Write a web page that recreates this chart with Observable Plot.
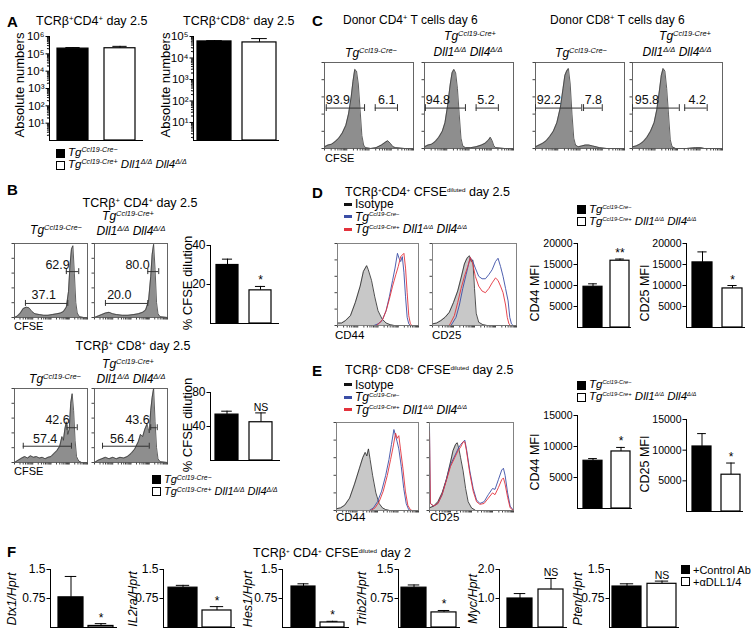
<!DOCTYPE html>
<html><head><meta charset="utf-8">
<script src="https://cdn.jsdelivr.net/npm/d3@7"></script>
<script src="https://cdn.jsdelivr.net/npm/@observablehq/plot@0.6"></script>
<style>
body{margin:0;background:#fff;}
#fig{position:relative;width:756px;height:637px;overflow:hidden;font-family:"Liberation Sans",Arial,Helvetica,sans-serif;color:#000;background:#fff;}
.t{position:absolute;white-space:nowrap;line-height:1;}
.t sup{font-size:0.62em;vertical-align:0;position:relative;top:-0.5em;}
.t.small sup{font-size:0.5em;top:-0.7em;}
.sq{position:absolute;width:9px;height:9px;box-sizing:border-box;border:1px solid #000;}
.ln{position:absolute;width:8px;height:3px;}
</style></head><body><div id="fig"></div><script>
// ---------------- DATA ----------------
const genotypes = ["Tg<sup>Ccl19-Cre−</sup>", "Tg<sup>Ccl19-Cre+</sup> Dll1<sup>Δ/Δ</sup> Dll4<sup>Δ/Δ</sup>"];
const treatments = ["+Control Ab", "+αDLL1/4"];
const groupKeys = ["g0", "g1"];

// A: absolute numbers (log)
const absCD4 = [2.0e5, 2.1e5], absCD4Err = [2.3e5, 2.7e5];
const absCD8 = [5.9e4, 5.3e4], absCD8Err = [6.4e4, 8.0e4];
const absTicksCD4 = [1e1, 1e2, 1e3, 1e4, 1e5, 1e6];
const absTicksCD8 = [1e1, 1e2, 1e3, 1e4, 1e5];

// B: % CFSE dilution
const cfseCD4 = [30, 17], cfseCD4Err = [33, 19], cfseCD4Sig = ["", "*"];
const cfseCD8 = [54, 45], cfseCD8Err = [58, 56], cfseCD8Sig = ["", "NS"];
const cfseCD4Ticks = [20, 40], cfseCD8Ticks = [40, 80];

// D / E: MFI
const dCD44 = [9700, 15900], dCD44Err = [10400, 16300], dCD44Sig = ["", "**"];
const dCD25 = [15500, 9300], dCD25Err = [18000, 10000], dCD25Sig = ["", "*"];
const eCD44 = [7700, 9200], eCD44Err = [8050, 9850], eCD44Sig = ["", "*"];
const eCD25 = [10600, 6000], eCD25Err = [12700, 7900], eCD25Sig = ["", "*"];
const mfiTicksD = [5000, 10000, 15000, 20000], mfiTicksE = [5000, 10000, 15000];

// F: qPCR
const genes = ["Dtx1", "IL2ra", "Hes1", "Trib2", "Myc", "Pten"];
const fControl = [0.78, 1.03, 1.06, 1.03, 1.0, 1.06];
const fControlErr = [1.32, 1.09, 1.13, 1.10, 1.17, 1.13];
const fDLL = [0.04, 0.44, 0.13, 0.39, 1.31, 1.13];
const fDLLErr = [0.10, 0.54, 0.16, 0.44, 1.69, 1.20];
const fSig = ["*", "*", "*", "*", "NS", "NS"];
const fTicks15 = [0.75, 1.5], fTicks20 = [1.0, 2.0];

// Histograms [CFSE/marker channel (0-100), % of max]
const bCD4ctrl = [[0,0],[4,2],[8,6],[12,12],[16,14],[20,13],[24,8],[28,5],[34,4],[40,3],[46,3],[52,4],[58,5],[63,6],[67,8],[71,14],[74,35],[76,70],[78,92],[80,97],[82,60],[84,20],[86,6],[89,1],[95,0],[100,0]];
const bCD4ko = [[0,0],[5,2],[10,4],[15,6],[20,7],[25,5],[30,4],[38,3],[46,3],[54,4],[60,5],[66,7],[70,10],[74,22],[77,55],[79,85],[81,99],[83,65],[85,20],[87,5],[90,1],[100,0]];
const bCD8ctrl = [[0,0],[5,3],[10,6],[14,8],[18,6],[22,9],[26,7],[30,8],[34,6],[38,7],[42,5],[46,7],[50,8],[54,12],[58,16],[62,22],[65,35],[67,30],[69,45],[71,55],[73,38],[75,45],[77,80],[79,93],[81,70],[83,30],[85,8],[88,2],[92,0],[100,0]];
const bCD8ko = [[0,0],[5,3],[10,5],[15,7],[20,5],[25,7],[30,5],[35,7],[40,6],[45,8],[50,12],[55,18],[60,28],[63,38],[66,35],[69,45],[72,52],[75,40],[77,70],[79,88],[81,100],[83,55],[85,20],[87,5],[90,1],[100,0]];
const cCD4ctrl = [[0,2],[4,4],[8,5],[12,8],[16,12],[20,18],[24,27],[27,40],[30,60],[32,78],[34,92],[36,90],[38,75],[40,45],[42,15],[44,4],[46,1],[52,0],[58,1],[64,4],[68,7],[71,9],[74,6],[77,2],[80,1],[90,0],[100,0]];
const cCD4ko = [[0,2],[4,4],[8,5],[12,8],[16,13],[20,20],[23,30],[26,50],[29,75],[31,88],[33,92],[35,88],[37,70],[39,40],[41,12],[43,3],[46,1],[52,1],[58,2],[64,4],[68,6],[72,10],[74,13],[76,9],[78,3],[80,1],[90,0],[100,0]];
const cCD8ctrl = [[0,2],[4,4],[8,6],[12,9],[16,14],[20,20],[24,30],[28,48],[31,70],[33,85],[35,90],[37,93],[39,75],[41,40],[43,12],[45,4],[48,2],[52,3],[56,4],[60,4],[64,3],[68,2],[72,1],[80,0],[100,0]];
const cCD8ko = [[0,2],[4,3],[8,5],[12,8],[16,13],[20,20],[24,30],[27,45],[30,68],[32,85],[34,93],[36,90],[38,70],[40,40],[42,10],[44,2],[48,0],[60,0],[70,1],[76,1],[80,0],[100,0]];
const dCD44iso = [[0,3],[5,3],[10,6],[16,12],[22,28],[28,48],[32,66],[36,73],[38,68],[42,55],[46,35],[50,18],[55,8],[60,3],[65,1],[70,0],[100,0]];
const dCD44ctrl = [[45,0],[50,2],[55,6],[60,18],[64,35],[68,55],[71,70],[74,88],[76,82],[78,78],[80,84],[82,65],[84,35],[86,10],[88,2],[90,0]];
const dCD44ko = [[48,0],[52,3],[56,8],[60,18],[64,32],[68,48],[72,62],[75,72],[78,84],[80,86],[82,88],[84,70],[86,40],[88,12],[90,2],[92,0]];
const dCD25iso = [[0,2],[5,3],[10,6],[15,10],[20,16],[25,28],[30,42],[34,58],[38,75],[41,82],[44,85],[46,78],[48,80],[50,45],[52,15],[55,4],[60,1],[65,0],[100,0]];
const dCD25ctrl = [[22,0],[28,10],[32,25],[36,45],[40,62],[43,75],[45,83],[48,78],[51,70],[55,60],[59,57],[63,57],[67,62],[71,68],[75,78],[78,82],[81,72],[84,60],[87,45],[90,30],[92,10],[94,2],[96,0]];
const dCD25ko = [[20,0],[26,12],[30,28],[34,45],[38,60],[42,72],[45,83],[48,75],[51,60],[55,48],[59,42],[63,40],[67,45],[71,52],[75,58],[78,55],[81,48],[84,40],[87,25],[89,10],[91,2],[93,0]];
const eCD44iso = [[0,2],[5,3],[10,6],[16,14],[22,30],[28,48],[32,60],[35,66],[37,62],[39,70],[41,58],[44,40],[48,20],[52,8],[56,3],[60,1],[65,0],[100,0]];
const eCD44ctrl = [[40,0],[45,3],[50,10],[55,22],[60,40],[64,58],[67,75],[70,92],[72,85],[74,78],[76,70],[79,50],[82,25],[85,8],[88,1],[90,0]];
const eCD44ko = [[42,0],[47,3],[52,10],[57,22],[62,40],[66,58],[69,72],[72,88],[74,82],[76,85],[78,70],[81,48],[84,22],[87,6],[90,1],[92,0]];
const eCD25iso = [[0,3],[5,5],[10,10],[15,20],[20,35],[25,55],[28,68],[31,75],[33,77],[35,70],[37,60],[40,45],[43,25],[46,10],[50,3],[55,0],[100,0]];
const eCD25ctrl = [[0,95],[1,8],[5,5],[10,8],[15,18],[20,35],[25,52],[30,62],[34,70],[37,75],[40,78],[42,80],[44,70],[48,45],[52,25],[56,12],[60,8],[65,10],[70,18],[75,25],[78,24],[82,35],[86,46],[88,48],[90,40],[93,20],[96,5],[100,0]];
const eCD25ko = [[0,90],[1,8],[5,5],[10,8],[15,18],[20,34],[25,50],[30,60],[34,68],[37,72],[40,78],[42,78],[44,68],[48,42],[52,22],[56,10],[60,7],[65,8],[70,14],[75,20],[78,18],[82,26],[86,35],[88,37],[90,30],[93,15],[96,3],[100,0]];

// gate labels
const gatesBCD4ctrl = [{label:"62.9",tx:59,ty:71,x1:71,x2:88,gy:62},{label:"37.1",tx:40,ty:31,x1:15,x2:73,gy:19}];
const gatesBCD4ko = [{label:"80.0",tx:59,ty:71,x1:73,x2:88,gy:62},{label:"20.0",tx:34,ty:31,x1:15,x2:73,gy:19}];
const gatesBCD8ctrl = [{label:"42.6",tx:59,ty:58,x1:72,x2:86,gy:47},{label:"57.4",tx:42,ty:32,x1:12,x2:78,gy:22}];
const gatesBCD8ko = [{label:"43.6",tx:59,ty:58,x1:77,x2:86,gy:47},{label:"56.4",tx:38,ty:32,x1:11,x2:75,gy:22}];
const gatesC1 = [{label:"93.9",tx:15,ty:56,x1:2,x2:45,gy:47},{label:"6.1",tx:70,ty:56,x1:57,x2:82,gy:47}];
const gatesC2 = [{label:"94.8",tx:15,ty:56,x1:1,x2:46,gy:47},{label:"5.2",tx:69,ty:56,x1:58,x2:83,gy:47}];
const gatesC3 = [{label:"92.2",tx:15,ty:56,x1:0,x2:52,gy:47},{label:"7.8",tx:65,ty:56,x1:54,x2:75,gy:47}];
const gatesC4 = [{label:"95.8",tx:16,ty:56,x1:0,x2:52,gy:47},{label:"4.2",tx:72,ty:56,x1:58,x2:83,gy:47}];

// ---------------- HELPERS ----------------
const FONT = "'Liberation Sans', Arial, Helvetica, sans-serif";
const fig = document.getElementById("fig");
function T(html, x, y, o = {}) {
  const d = document.createElement("div");
  d.className = "t" + (o.small ? " small" : "");
  d.innerHTML = html;
  d.style.left = x + "px"; d.style.top = y + "px";
  d.style.fontSize = (o.size || 12) + "px";
  if (o.italic) d.style.fontStyle = "italic";
  if (o.bold) d.style.fontWeight = "bold";
  const ax = o.anchor === "middle" ? "-50%" : o.anchor === "end" ? "-100%" : "0";
  d.style.transform = `translate(${ax},-50%)` + (o.rotate ? " rotate(-90deg)" : "");
  fig.appendChild(d);
}
function SQ(x, y, black) {
  const d = document.createElement("div"); d.className = "sq";
  d.style.left = x + "px"; d.style.top = y + "px"; d.style.background = black ? "#000" : "#fff";
  fig.appendChild(d);
}
function LN(x, y, color) {
  const d = document.createElement("div"); d.className = "ln";
  d.style.left = x + "px"; d.style.top = (y - 1.5) + "px"; d.style.background = color;
  fig.appendChild(d);
}
function place(svg, left, top) {
  svg.style.position = "absolute"; svg.style.left = left + "px"; svg.style.top = top + "px";
  svg.style.maxWidth = "none"; svg.style.overflow = "visible";
  fig.appendChild(svg);
}
const supDigits = "⁰¹²³⁴⁵⁶⁷⁸⁹";
const pow10 = d => "10" + String(Math.round(Math.log10(d))).split("").map(c => supDigits[+c]).join("");

function barChart(L, vals, errs, sigs, fmt) {
  const ml = 46, mr = 2, mt = 16, mb = 2;
  const h = L.yBottom - L.yTop;
  const W = (L.barL - L.axis) + 2 * L.bw + L.gap + L.outerR;
  const rows = vals.map((v, i) => ({g: groupKeys[i], v, e: errs[i], s: sigs ? sigs[i] : "", c: i ? "#fff" : "#000"}));
  const base = L.domain[0];
  const x0 = ml + (L.barL - L.axis);
  const marks = [
    Plot.ruleY([base], {stroke: "#000", strokeWidth: 1.2}),
    Plot.ruleX(rows, {x: "g", y1: "v", y2: "e", stroke: "#000", strokeWidth: 1}),
    Plot.tickY(rows, {x: "g", y: "e", stroke: "#000", strokeWidth: 1, insetLeft: L.bw * 0.27, insetRight: L.bw * 0.27}),
    Plot.barY(rows, {x: "g", y1: base, y2: "v", fill: "c", stroke: "#000", strokeWidth: 1.2}),
    Plot.text(rows.filter(d => d.s), {x: "g", y: "e", text: "s", lineAnchor: "bottom", fontSize: L.sigSize || 12, dy: -2})
  ];
  if (L.log) {
    const minors = [];
    for (let e = 0; e < 6; e++) for (let k = 2; k <= 9; k++) { const m = k * Math.pow(10, e); if (m > L.domain[0] && m < L.domain[1]) minors.push(m); }
    marks.push(Plot.vector(minors, {y: d => d, frameAnchor: "left", rotate: -90, length: 2, anchor: "start", stroke: "#000", strokeWidth: 0.8}));
  }
  const svg = Plot.plot({
    width: ml + W + mr, height: mt + h + mb,
    marginLeft: ml, marginRight: mr, marginTop: mt, marginBottom: mb,
    style: {fontSize: (L.tickSize || 12) + "px", fontFamily: FONT, background: "transparent", color: "#000"},
    x: {type: "band", domain: groupKeys, range: [x0, x0 + 2 * L.bw + L.gap], paddingInner: L.gap / (L.bw + L.gap), paddingOuter: 0, axis: null},
    y: {type: L.log ? "log" : "linear", domain: L.domain, ticks: L.ticks, tickFormat: fmt, tickSize: 3.5, tickPadding: 1.5, line: true, label: null},
    color: {type: "identity"},
    marks
  });
  place(svg, L.axis - ml, L.yTop - mt);
}

const flowTicks = [];
for (let dcd = 0; dcd < 4; dcd++) { for (const k of [1,2,3,4,5,6,7,8,9]) flowTicks.push(dcd * 25 + 25 * Math.log10(k)); }
flowTicks.push(100);
const flowTicksY = [0, 20, 40, 60, 80, 100];

function hist(B, layers, gates) {
  const ml = 4, mr = 1, mt = 1, mb = 4;
  const marks = [];
  for (const l of layers) if (l.fill) marks.push(Plot.areaY(l.pts, {x: d => d[0], y: d => d[1], fill: l.fill}));
  for (const l of layers) marks.push(Plot.lineY(l.pts, {x: d => d[0], y: d => d[1], stroke: l.stroke, strokeWidth: l.sw || 0.8}));
  marks.push(Plot.frame({stroke: B.frame || "#555", strokeWidth: 0.9}));
  if (gates) {
    marks.push(Plot.ruleY(gates, {y: "gy", x1: "x1", x2: "x2", stroke: "#333", strokeWidth: 1}));
    marks.push(Plot.ruleX(gates, {x: "x1", y1: d => d.gy - 4, y2: d => d.gy + 4, stroke: "#333", strokeWidth: 1}));
    marks.push(Plot.ruleX(gates, {x: "x2", y1: d => d.gy - 4, y2: d => d.gy + 4, stroke: "#333", strokeWidth: 1}));
    marks.push(Plot.text(gates, {x: "tx", y: "ty", text: "label", fontSize: 12.5, fill: "#111"}));
  }
  const svg = Plot.plot({
    width: B.w + ml + mr, height: B.h + mt + mb,
    marginLeft: ml, marginRight: mr, marginTop: mt, marginBottom: mb,
    style: {fontSize: "10px", fontFamily: FONT, background: "transparent", color: "#444"},
    x: {domain: [0, 100], ticks: flowTicks, tickSize: 2.5, tickFormat: () => "", label: null},
    y: {domain: [0, 100], ticks: flowTicksY, tickSize: 2.5, tickFormat: () => "", label: null},
    marks
  });
  place(svg, B.left - ml, B.top - mt);
}
const G = "#8e8e8e", GS = "#3a3a3a", ISO = "#c8c8c8", BLUE = "#3b4ea6", RED = "#e3323c";

// ---------------- PANEL A ----------------
T("A", 7, 21, {size: 15, bold: true});
T("TCRβ<sup>+</sup>CD4<sup>+</sup> day 2.5", 36, 21, {size: 12.5});
T("TCRβ<sup>+</sup>CD8<sup>+</sup> day 2.5", 183, 21, {size: 12.5});
T("Absolute numbers", 19, 85, {size: 13, anchor: "middle", rotate: true});
T("Absolute numbers", 165, 85, {size: 13, anchor: "middle", rotate: true});
barChart({axis: 49, barL: 57, bw: 31, gap: 16, outerR: 8, yTop: 36, yBottom: 140, domain: [1, 1e6], log: true, ticks: absTicksCD4, tickSize: 11.5}, absCD4, absCD4Err, null, pow10);
barChart({axis: 193, barL: 197, bw: 34, gap: 11, outerR: 3, yTop: 36, yBottom: 140, domain: [1.45, 1e5], log: true, ticks: absTicksCD8, tickSize: 11.5}, absCD8, absCD8Err, null, pow10);
SQ(56, 149, true); T(genotypes[0], 68, 153, {size: 11.5, italic: true});
SQ(56, 161, false); T(genotypes[1], 68, 165, {size: 11.5, italic: true});

// ---------------- PANEL B ----------------
T("B", 7, 189, {size: 15, bold: true});
T("TCRβ<sup>+</sup> CD4<sup>+</sup> day 2.5", 140, 203, {size: 12.5, anchor: "middle"});
T(genotypes[0], 56, 230, {size: 12, italic: true, anchor: "middle"});
T("Tg<sup>Ccl19-Cre+</sup>", 128, 216, {size: 12, italic: true, anchor: "middle"});
T("Dll1<sup>Δ/Δ</sup> Dll4<sup>Δ/Δ</sup>", 131, 231, {size: 12, italic: true, anchor: "middle"});
hist({left: 14, top: 243, w: 73, h: 74}, [{pts: bCD4ctrl, fill: G, stroke: GS}], gatesBCD4ctrl);
hist({left: 94, top: 243, w: 73, h: 74}, [{pts: bCD4ko, fill: G, stroke: GS}], gatesBCD4ko);
T("CFSE", 14, 326, {size: 11});
T("% CFSE dilution", 187, 283, {size: 13, anchor: "middle", rotate: true});
barChart({axis: 210, barL: 216, bw: 22, gap: 11, outerR: 8, yTop: 245, yBottom: 323, domain: [0, 40], ticks: cfseCD4Ticks}, cfseCD4, cfseCD4Err, cfseCD4Sig, d => String(d));

T("TCRβ<sup>+</sup> CD8<sup>+</sup> day 2.5", 133, 346, {size: 12.5, anchor: "middle"});
T(genotypes[0], 55, 379, {size: 12, italic: true, anchor: "middle"});
T("Tg<sup>Ccl19-Cre+</sup>", 128, 364, {size: 12, italic: true, anchor: "middle"});
T("Dll1<sup>Δ/Δ</sup> Dll4<sup>Δ/Δ</sup>", 131, 379, {size: 12, italic: true, anchor: "middle"});
hist({left: 14, top: 388, w: 73, h: 74}, [{pts: bCD8ctrl, fill: G, stroke: GS}], gatesBCD8ctrl);
hist({left: 94, top: 388, w: 73, h: 74}, [{pts: bCD8ko, fill: G, stroke: GS}], gatesBCD8ko);
T("CFSE", 14, 471, {size: 11});
T("% CFSE dilution", 187, 425, {size: 13, anchor: "middle", rotate: true});
barChart({axis: 210, barL: 215, bw: 23, gap: 11, outerR: 8, yTop: 392, yBottom: 460, domain: [0, 80], ticks: cfseCD8Ticks, sigSize: 10.5}, cfseCD8, cfseCD8Err, cfseCD8Sig, d => String(d));
SQ(152, 475, true); T(genotypes[0], 164, 479, {size: 11, italic: true});
SQ(152, 487, false); T(genotypes[1], 164, 491, {size: 11, italic: true});

// ---------------- PANEL C ----------------
T("C", 312, 20, {size: 15, bold: true});
T("Donor CD4<sup>+</sup> T cells day 6", 343, 20, {size: 12});
T("Donor CD8<sup>+</sup> T cells day 6", 550, 20, {size: 12});
T(genotypes[0], 371, 53, {size: 12, italic: true, anchor: "middle"});
T("Tg<sup>Ccl19-Cre+</sup>", 470, 36, {size: 12, italic: true, anchor: "middle"});
T("Dll1<sup>Δ/Δ</sup> Dll4<sup>Δ/Δ</sup>", 468, 52, {size: 12, italic: true, anchor: "middle"});
T(genotypes[0], 581, 53, {size: 12, italic: true, anchor: "middle"});
T("Tg<sup>Ccl19-Cre+</sup>", 685, 36, {size: 12, italic: true, anchor: "middle"});
T("Dll1<sup>Δ/Δ</sup> Dll4<sup>Δ/Δ</sup>", 677, 52, {size: 12, italic: true, anchor: "middle"});
hist({left: 324, top: 62, w: 89, h: 86}, [{pts: cCD4ctrl, fill: G, stroke: GS}], gatesC1);
hist({left: 424, top: 62, w: 89, h: 86}, [{pts: cCD4ko, fill: G, stroke: GS}], gatesC2);
hist({left: 535, top: 62, w: 89, h: 86}, [{pts: cCD8ctrl, fill: G, stroke: GS}], gatesC3);
hist({left: 632, top: 62, w: 90, h: 86}, [{pts: cCD8ko, fill: G, stroke: GS}], gatesC4);
T("CFSE", 325, 158, {size: 11});

// ---------------- PANEL D ----------------
T("D", 312, 192, {size: 15, bold: true});
T("TCRβ<sup>+</sup>CD4<sup>+</sup> CFSE<sup>diluted</sup> day 2.5", 345, 192, {size: 12.5, small: true});
LN(344, 204, "#111"); T("Isotype", 355, 204, {size: 12});
LN(344, 216.5, BLUE); T(genotypes[0], 355, 216.5, {size: 12, italic: true, small: true});
LN(344, 229, RED); T(genotypes[1], 355, 229, {size: 12, italic: true, small: true});
hist({left: 337, top: 243, w: 81, h: 82, frame: "#777"}, [{pts: dCD44iso, fill: ISO, stroke: "#222"}, {pts: dCD44ctrl, stroke: BLUE, sw: 0.9}, {pts: dCD44ko, stroke: RED, sw: 0.9}]);
hist({left: 432, top: 243, w: 84, h: 82, frame: "#777"}, [{pts: dCD25iso, fill: ISO, stroke: "#222"}, {pts: dCD25ctrl, stroke: BLUE, sw: 0.9}, {pts: dCD25ko, stroke: RED, sw: 0.9}]);
T("CD44", 335, 336, {size: 11.5});
T("CD25", 432, 336, {size: 11.5});
SQ(577, 205, true); T(genotypes[0], 589, 210, {size: 11.5, italic: true, small: true});
SQ(577, 217, false); T(genotypes[1], 589, 222, {size: 11.5, italic: true, small: true});
T("CD44 MFI", 535, 293, {size: 12.5, anchor: "middle", rotate: true});
T("CD25 MFI", 645, 293, {size: 12.5, anchor: "middle", rotate: true});
barChart({axis: 577, barL: 583, bw: 19, gap: 8, outerR: 2, yTop: 243, yBottom: 327, domain: [0, 20000], ticks: mfiTicksD, tickSize: 10.5}, dCD44, dCD44Err, dCD44Sig, d => String(d));
barChart({axis: 686, barL: 692, bw: 20, gap: 10, outerR: 3, yTop: 243, yBottom: 327, domain: [0, 20000], ticks: mfiTicksD, tickSize: 10.5}, dCD25, dCD25Err, dCD25Sig, d => String(d));

// ---------------- PANEL E ----------------
T("E", 312, 370, {size: 15, bold: true});
T("TCRβ<sup>+</sup> CD8<sup>+</sup> CFSE<sup>diluted</sup> day 2.5", 345, 370, {size: 12.5, small: true});
LN(344, 384.5, "#111"); T("Isotype", 355, 384.5, {size: 12});
LN(344, 397, BLUE); T(genotypes[0], 355, 397, {size: 12, italic: true, small: true});
LN(344, 409.5, RED); T(genotypes[1], 355, 409.5, {size: 12, italic: true, small: true});
hist({left: 336, top: 422, w: 82, h: 88, frame: "#777"}, [{pts: eCD44iso, fill: ISO, stroke: "#222"}, {pts: eCD44ctrl, stroke: BLUE, sw: 0.9}, {pts: eCD44ko, stroke: RED, sw: 0.9}]);
hist({left: 429, top: 422, w: 84, h: 88, frame: "#777"}, [{pts: eCD25iso, fill: ISO, stroke: "#222"}, {pts: eCD25ctrl, stroke: BLUE, sw: 0.9}, {pts: eCD25ko, stroke: RED, sw: 0.9}]);
T("CD44", 336, 518, {size: 11.5});
T("CD25", 430, 518, {size: 11.5});
SQ(577, 381, true); T(genotypes[0], 589, 385, {size: 11.5, italic: true, small: true});
SQ(577, 393, false); T(genotypes[1], 589, 397, {size: 11.5, italic: true, small: true});
T("CD44 MFI", 535, 462, {size: 12.5, anchor: "middle", rotate: true});
T("CD25 MFI", 645, 464, {size: 12.5, anchor: "middle", rotate: true});
barChart({axis: 577, barL: 583, bw: 19, gap: 9, outerR: 2, yTop: 415, yBottom: 508, domain: [0, 15000], ticks: mfiTicksE, tickSize: 10.5}, eCD44, eCD44Err, eCD44Sig, d => String(d));
barChart({axis: 686, barL: 692, bw: 19, gap: 10, outerR: 3, yTop: 419, yBottom: 511, domain: [0, 15000], ticks: mfiTicksE, tickSize: 10.5}, eCD25, eCD25Err, eCD25Sig, d => String(d));

// ---------------- PANEL F ----------------
T("F", 7, 551, {size: 15, bold: true});
T("TCRβ<sup>+</sup> CD4<sup>+</sup> CFSE<sup>diluted</sup> day 2", 253, 553, {size: 12.5, small: true});
const fLayout = [
  {axis: 50, barL: 58, bw: 25, gap: 5, outerR: 4, lx: 12},
  {axis: 163, barL: 168, bw: 29, gap: 5, outerR: 4, lx: 133},
  {axis: 282, barL: 291, bw: 24, gap: 5, outerR: 5, lx: 248},
  {axis: 398, barL: 401, bw: 25, gap: 5, outerR: 4, lx: 362},
  {axis: 499, barL: 507, bw: 25, gap: 6, outerR: 4, lx: 473},
  {axis: 609, barL: 612, bw: 29, gap: 6, outerR: 3, lx: 578}
];
genes.forEach((g, i) => {
  const L = fLayout[i];
  const isMyc = g === "Myc";
  T(g + "/Hprt", L.lx, 599, {size: 12.5, italic: true, anchor: "middle", rotate: true});
  barChart(Object.assign({yTop: 569, yBottom: 627, domain: isMyc ? [0, 2] : [0, 1.5], ticks: isMyc ? fTicks20 : fTicks15, sigSize: fSig[i] === "NS" ? 10.5 : 12}, L),
    [fControl[i], fDLL[i]], [fControlErr[i], fDLLErr[i]], ["", fSig[i]], isMyc ? (d => d.toFixed(1)) : (d => String(d)));
});
SQ(681, 565, true); T(treatments[0], 693, 570, {size: 11});
SQ(681, 577, false); T(treatments[1], 693, 582, {size: 11});
</script></body></html>
